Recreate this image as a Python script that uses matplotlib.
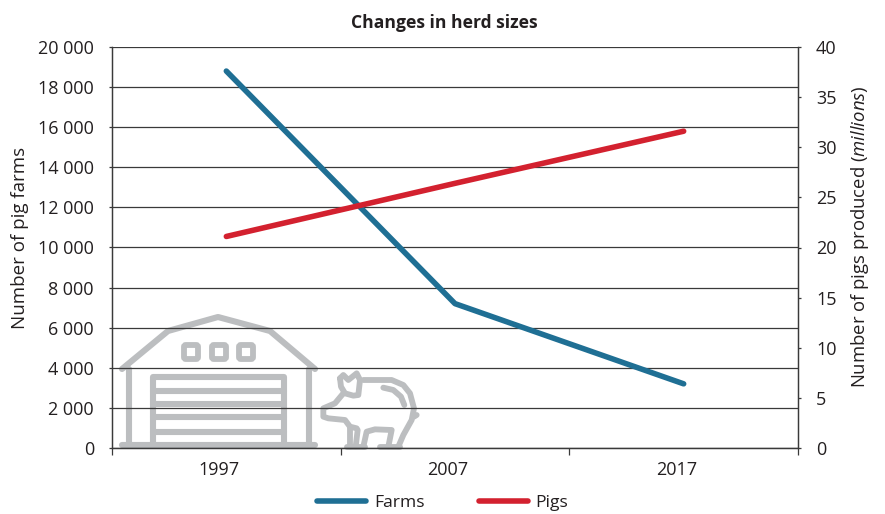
import matplotlib
matplotlib.use("Agg")
import matplotlib.pyplot as plt
from matplotlib.transforms import Affine2D, ScaledTranslation
from matplotlib.patches import FancyBboxPatch

plt.rcParams['font.family'] = ['Open Sans', 'Noto Sans', 'DejaVu Sans']
plt.rcParams['mathtext.fontset'] = 'custom'
plt.rcParams['mathtext.it'] = 'Open Sans:italic'
plt.rcParams['mathtext.rm'] = 'Open Sans'

years = ["1997", "2007", "2017"]
farms = [18800, 7200, 3200]
pigs = [21.1, 26.4, 31.6]
left_ticks = list(range(0, 20001, 2000))
right_ticks = list(range(0, 41, 5))

W, H = 885, 514
TXT = "#231f20"
BLUE = "#1f6f94"
RED = "#d3212f"
GREY = "#bcbec0"
LINE = "#3a3a3a"
FS = 13
FS_TITLE = 12.6

fig = plt.figure(figsize=(W/100, H/100), dpi=100)
fig.patch.set_facecolor("white")
ax = fig.add_axes([112/W, 1-448/H, 686/W, 401/H])
ax.set_facecolor("none")
ax2 = ax.twinx()
ax2.set_facecolor("none")

x = range(len(years))
ax.set_xlim(-0.5, 2.5)
ax.set_ylim(0, 20000)
ax2.set_ylim(0, 40)

ax.yaxis.grid(True, color=LINE, lw=0.9)
ax.set_axisbelow(True)
l1, = ax.plot(x, farms, color=BLUE, lw=4, solid_capstyle="round", solid_joinstyle="round", label="Farms", zorder=5)
l2, = ax2.plot(x, pigs, color=RED, lw=4, solid_capstyle="round", solid_joinstyle="round", label="Pigs", zorder=5)

ax.set_xticks([-0.5, 0.5, 1.5, 2.5])
ax.set_xticklabels([])
ax.set_xticks(list(x), minor=True)
ax.set_xticklabels(years, minor=True)
ax.tick_params(axis="x", which="minor", length=0, pad=9.5, labelsize=FS, colors=TXT)
ax.tick_params(axis="x", which="major", length=5, width=0.9, color=LINE)
shift = ScaledTranslation(-7/100, 0, fig.dpi_scale_trans)
for lab in ax.get_xticklabels(minor=True):
    lab.set_transform(lab.get_transform() + shift)
ax.set_yticks(left_ticks)
ax.set_yticklabels([f"{v:,}".replace(",", " ") for v in left_ticks])
ax.tick_params(axis="y", length=2.5, width=0.9, color=LINE, labelsize=FS, labelcolor=TXT, pad=10.5)
ax2.set_yticks(right_ticks)
ax2.tick_params(axis="y", length=2.5, width=0.9, color=LINE, labelsize=FS, labelcolor=TXT, pad=10.5)
for a in (ax, ax2):
    a.spines["top"].set_visible(False)
    for s in ("left", "right", "bottom"):
        a.spines[s].set_color(LINE)
        a.spines[s].set_linewidth(0.9)

fig.text(20/W, 1-238/H, "Number of pig farms", rotation=90, ha="center", va="center", fontsize=13.5, color=TXT)
fig.text(860/W, 1-236.5/H, r"Number of pigs produced ($\mathit{millions}$)", rotation=90, ha="center", va="center", fontsize=13.3, color=TXT)
fig.text(444.5/W, 1-23/H, "Changes in herd sizes", ha="center", va="center", fontsize=FS_TITLE, fontweight="bold", color=TXT)

leg = fig.legend(handles=[l1, l2], loc="center", bbox_to_anchor=(442.5/W, 1-503/H), ncol=2, frameon=False,
                 fontsize=FS_TITLE, handlelength=2.8, columnspacing=3.1, handletextpad=0.45, labelcolor=TXT,
                 borderpad=0, borderaxespad=0)

# decorative barn and pig icon, placed in image pixels, behind the axes
px = Affine2D().scale(1, -1).translate(0, H)
def stroke(xs, ys, lw=4.4):
    fig.add_artist(plt.Line2D(xs, ys, transform=px, color=GREY, lw=lw, solid_capstyle="round", solid_joinstyle="round", zorder=-1))

stroke([122, 168, 218, 270, 315], [369, 331, 317, 331, 369])
stroke([129, 129], [369, 445])
stroke([309, 309], [369, 445])
stroke([122, 315], [445, 445])
stroke([153, 153, 284, 284], [445, 377, 377, 445])
for yy in (391, 404, 417, 432):
    stroke([153, 284], [yy, yy])
for cx in (191, 219, 246):
    fig.add_artist(FancyBboxPatch((cx-7, 352-7), 14, 14, boxstyle="round,pad=0,rounding_size=2", transform=px,
                                  fc="none", ec=GREY, lw=4.2, zorder=-1))

def pig(pts, lw=4.2):
    stroke([315 + p[0]/3 for p in pts], [365 + p[1]/3 for p in pts], lw)

pig([(75, 40), (78, 65), (90, 85), (115, 92), (130, 90), (135, 45), (125, 25), (100, 45), (85, 30), (75, 40)])
pig([(145, 45), (230, 45), (265, 60), (285, 85), (297, 130), (290, 165), (265, 210), (250, 245)])
pig([(205, 68), (235, 75), (258, 95), (268, 120)])
pig([(297, 155), (305, 150)])
pig([(85, 85), (60, 115), (25, 130), (25, 155), (40, 160), (90, 165), (105, 185), (125, 190)])
pig([(105, 185), (105, 245)])
pig([(128, 195), (122, 245)])
pig([(145, 245), (155, 200), (180, 193), (230, 195), (220, 245)])
pig([(95, 247), (150, 247)])
pig([(195, 247), (255, 247)])
pig([(90, 105), (90, 105)], 5)

fig.savefig("out.png", dpi=100)
